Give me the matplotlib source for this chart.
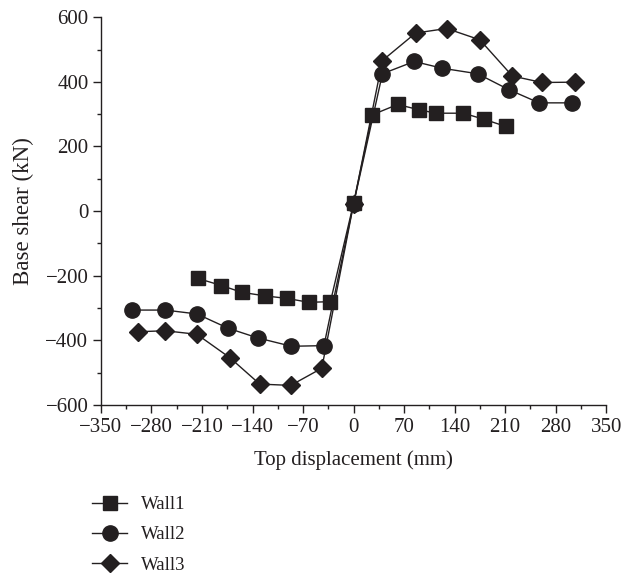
import matplotlib
matplotlib.use("Agg")
import matplotlib.pyplot as plt
from matplotlib.ticker import MultipleLocator

plt.rcParams['font.family'] = ['Liberation Serif', 'DejaVu Serif']

wall1_x = [-216, -183, -155, -123, -92, -62, -32, 0, 26, 61, 90, 114, 152, 181, 211]
wall1_y = [-208, -230, -251, -262, -270, -282, -280, 24, 298, 330, 314, 303, 303, 284, 262]

wall2_x = [-307, -261, -217, -174, -133, -86, -41, 0, 40, 84, 123, 172, 215, 257, 302]
wall2_y = [-306, -306, -318, -362, -392, -418, -416, 22, 425, 463, 442, 425, 376, 335, 335]

wall3_x = [-298, -261, -217, -171, -130, -87, -44, 0, 40, 86, 129, 175, 220, 261, 307]
wall3_y = [-373, -370, -381, -454, -535, -539, -486, 22, 466, 551, 565, 530, 418, 398, 399]

series_names = ["Wall1", "Wall2", "Wall3"]
x_ticks = [-350, -280, -210, -140, -70, 0, 70, 140, 210, 280, 350]
y_ticks = [-600, -400, -200, 0, 200, 400, 600]

color = "#231f20"
fig = plt.figure(figsize=(6.23, 5.73), dpi=100)
ax = fig.add_axes([0.162, 0.293, 0.811, 0.677])

ax.plot(wall1_x, wall1_y, color=color, lw=1, marker='s', ms=10, label=series_names[0], zorder=3)
ax.plot(wall2_x, wall2_y, color=color, lw=1, marker='o', ms=11, label=series_names[1], zorder=2)
ax.plot(wall3_x, wall3_y, color=color, lw=1, marker='D', ms=9, label=series_names[2], zorder=1)

ax.set_xlim(-350, 350)
ax.set_ylim(-600, 600)
ax.set_xticks(x_ticks)
ax.set_yticks(y_ticks)
ax.set_xticklabels([str(v).replace('-', '\u2212') for v in x_ticks])
ax.set_yticklabels([str(v).replace('-', '\u2212') for v in y_ticks])
ax.xaxis.set_minor_locator(MultipleLocator(35))
ax.yaxis.set_minor_locator(MultipleLocator(100))
for s in ['top', 'right']:
    ax.spines[s].set_visible(False)
for s in ['left', 'bottom']:
    ax.spines[s].set_color(color)
    ax.spines[s].set_linewidth(1)
ax.tick_params(which='major', direction='out', length=6, width=1, color=color,
               labelsize=15, labelcolor=color, pad=3)
ax.tick_params(which='minor', direction='out', length=3, width=1, color=color)

ax.set_xlabel("Top displacement (mm)", fontsize=15, color=color, labelpad=10)
ax.set_ylabel("Base shear (kN)", fontsize=16.5, color=color, labelpad=8)

fig.legend(loc='upper left', bbox_to_anchor=(0.1364, 0.147), frameon=False, fontsize=13.5,
           handlelength=1.85, labelspacing=0.69, handletextpad=0.75, borderaxespad=0,
           labelcolor=color)

fig.savefig("out.png", dpi=100)
